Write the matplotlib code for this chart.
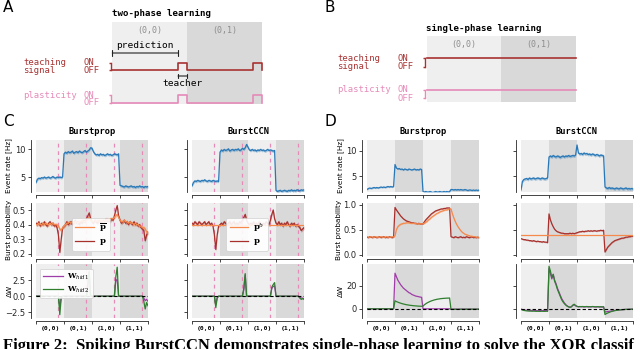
import numpy as np
import matplotlib
matplotlib.use('Agg')
import matplotlib.pyplot as plt

# ---------------- data ----------------
t = np.arange(81) * 0.05
phase_labels = ['(0,0)', '(0,1)', '(1,0)', '(1,1)']
phase_edges = [0, 1, 2, 3, 4]
teacher_onsets = [0.8, 1.8, 2.8, 3.8]

# panel A / B schematic signals
a_time = [0, 0.88, 1.0, 1.88, 2.0]
a_teach = [0, 1, 0, 1, 0]
a_plast = [0, 1, 0, 1, 0]
b_time = [0, 2]
b_teach = [1, 1]
b_plast = [1, 1]

# ---- panel C, Burstprop ----
c_bp_rate = [4.0, 4.6, 4.8, 4.7, 4.9, 4.8, 5.0, 4.8, 4.9, 5.0, 4.8, 4.9, 5.1, 4.9, 4.8, 5.0, 4.9, 5.0, 4.9, 5.0,
             9.2, 9.5, 9.3, 9.6, 9.4, 9.5, 9.7, 9.3, 9.5, 9.6, 9.4, 9.7, 9.5, 9.4, 9.6, 9.8, 9.5, 9.7, 9.9, 10.3,
             10.2, 9.6, 9.2, 9.0, 9.1, 8.9, 9.2, 9.0, 9.1, 8.9, 9.0, 9.2, 9.0, 9.1, 8.9, 9.0, 9.2, 9.1, 9.0, 9.2,
             3.5, 3.4, 3.3, 3.2, 3.4, 3.3, 3.2, 3.3, 3.4, 3.2, 3.3, 3.1, 3.3, 3.2, 3.4, 3.2, 3.3, 3.1, 3.3, 3.2, 3.3]
c_bp_pbar = [0.40, 0.40, 0.41, 0.40, 0.40, 0.41, 0.40, 0.41, 0.40, 0.40, 0.41, 0.40, 0.41, 0.40, 0.40, 0.40, 0.39, 0.37, 0.36, 0.38,
             0.39, 0.40, 0.41, 0.41, 0.42, 0.41, 0.42, 0.41, 0.42, 0.42, 0.41, 0.42, 0.42, 0.43, 0.42, 0.42, 0.43, 0.44, 0.45, 0.43,
             0.42, 0.42, 0.43, 0.42, 0.43, 0.42, 0.43, 0.43, 0.42, 0.43, 0.43, 0.44, 0.43, 0.44, 0.44, 0.44, 0.45, 0.46, 0.47, 0.45,
             0.43, 0.42, 0.42, 0.43, 0.42, 0.42, 0.41, 0.42, 0.41, 0.41, 0.40, 0.41, 0.40, 0.40, 0.39, 0.39, 0.38, 0.38, 0.37, 0.35, 0.34]
c_bp_p = [0.41, 0.40, 0.42, 0.39, 0.41, 0.40, 0.42, 0.40, 0.39, 0.41, 0.42, 0.40, 0.41, 0.39, 0.40, 0.38, 0.33, 0.21, 0.30, 0.38,
          0.39, 0.40, 0.42, 0.40, 0.41, 0.42, 0.40, 0.41, 0.43, 0.41, 0.42, 0.40, 0.42, 0.41, 0.43, 0.42, 0.44, 0.46, 0.48, 0.44,
          0.42, 0.41, 0.43, 0.42, 0.41, 0.43, 0.42, 0.41, 0.43, 0.42, 0.44, 0.42, 0.43, 0.42, 0.44, 0.43, 0.46, 0.50, 0.53, 0.46,
          0.43, 0.41, 0.42, 0.43, 0.41, 0.42, 0.40, 0.42, 0.41, 0.40, 0.42, 0.40, 0.41, 0.39, 0.40, 0.38, 0.37, 0.36, 0.29, 0.33, 0.35]
c_bp_w1 = [0, 0, 0, 0, 0, 0, 0, 0, 0, 0, 0, 0, 0, 0, 0, 0, 0, -1.7, -0.2, 0,
           0, 0, 0, 0, 0, 0, 0, 0, 0, 0, 0, 0, 0, 0, 0, 0, 0, 1.7, 3.7, 0,
           0, 0, 0, 0, 0, 0, 0, 0, 0, 0, 0, 0, 0, 0, 0, 0, 0, 2.4, 2.6, 0,
           0, 0, 0, 0, 0, 0, 0, 0, 0, 0, 0, 0, 0, 0, 0, 0, 0, -0.3, -0.7, -0.5, -0.8]
c_bp_w2 = [0, 0, 0, 0, 0, 0, 0, 0, 0, 0, 0, 0, 0, 0, 0, 0, 0, -2.9, -0.3, 0,
           0, 0, 0, 0, 0, 0, 0, 0, 0, 0, 0, 0, 0, 0, 0, 0, 0, 1.8, 3.9, 0,
           0, 0, 0, 0, 0, 0, 0, 0, 0, 0, 0, 0, 0, 0, 0, 0, 0, 3.0, 4.5, 0,
           0, 0, 0, 0, 0, 0, 0, 0, 0, 0, 0, 0, 0, 0, 0, 0, 0, -0.8, -2.0, -1.0, -1.5]

# ---- panel C, BurstCCN ----
c_ccn_rate = [3.4, 4.0, 4.3, 4.2, 4.4, 4.3, 4.2, 4.4, 4.3, 4.5, 4.3, 4.2, 4.4, 4.3, 4.2, 4.4, 4.3, 4.2, 4.3, 4.2,
              9.5, 9.9, 9.7, 10.0, 9.8, 9.9, 10.1, 9.7, 9.9, 10.0, 9.8, 10.0, 9.9, 10.1, 9.8, 9.9, 10.2, 10.0, 10.3, 10.9,
              10.4, 9.9, 9.8, 10.0, 9.8, 9.9, 9.7, 9.9, 9.8, 10.0, 9.8, 9.9, 9.7, 9.8, 10.0, 9.8, 9.9, 9.8, 9.7, 9.8,
              2.6, 2.4, 2.5, 2.6, 2.4, 2.5, 2.6, 2.5, 2.4, 2.6, 2.5, 2.7, 2.5, 2.6, 2.5, 2.7, 2.6, 2.5, 2.7, 2.6, 2.7]
c_ccn_pb = 0.40
c_ccn_p = [0.41, 0.40, 0.42, 0.41, 0.40, 0.42, 0.41, 0.40, 0.41, 0.42, 0.40, 0.41, 0.42, 0.40, 0.41, 0.39, 0.33, 0.23, 0.33, 0.39,
           0.40, 0.41, 0.40, 0.42, 0.41, 0.40, 0.41, 0.42, 0.40, 0.41, 0.42, 0.40, 0.41, 0.40, 0.42, 0.41, 0.43, 0.45, 0.47, 0.43,
           0.41, 0.40, 0.41, 0.40, 0.42, 0.40, 0.41, 0.40, 0.42, 0.41, 0.40, 0.41, 0.40, 0.42, 0.41, 0.40, 0.43, 0.47, 0.50, 0.44,
           0.41, 0.40, 0.42, 0.40, 0.41, 0.39, 0.41, 0.40, 0.42, 0.40, 0.39, 0.41, 0.40, 0.41, 0.39, 0.40, 0.39, 0.38, 0.36, 0.37, 0.38]
c_ccn_w1 = [0, 0, 0, 0, 0, 0, 0, 0, 0, 0, 0, 0, 0, 0, 0, 0, 0, -1.3, -0.2, 0,
            0, 0, 0, 0, 0, 0, 0, 0, 0, 0, 0, 0, 0, 0, 0, 0, 0, 1.0, 3.3, 0,
            0, 0, 0, 0, 0, 0, 0, 0, 0, 0, 0, 0, 0, 0, 0, 0, 0, 1.2, 1.5, 1.6,
            0, 0, 0, 0, 0, 0, 0, 0, 0, 0, 0, 0, 0, 0, 0, 0, 0, -0.2, -0.3, -0.3, -0.4]
c_ccn_w2 = [0, 0, 0, 0, 0, 0, 0, 0, 0, 0, 0, 0, 0, 0, 0, 0, 0, -1.8, -0.3, 0,
            0, 0, 0, 0, 0, 0, 0, 0, 0, 0, 0, 0, 0, 0, 0, 0, 0, 1.2, 3.5, 0,
            0, 0, 0, 0, 0, 0, 0, 0, 0, 0, 0, 0, 0, 0, 0, 0, 0, 1.4, 1.8, 2.1,
            0, 0, 0, 0, 0, 0, 0, 0, 0, 0, 0, 0, 0, 0, 0, 0, 0, -0.3, -0.5, -0.4, -0.5]

# ---- panel D, Burstprop ----
d_bp_rate = [2.3, 2.5, 2.6, 2.5, 2.6, 2.7, 2.6, 2.7, 2.6, 2.7, 2.8, 2.7, 2.8, 2.7, 2.8, 2.9, 2.8, 2.9, 2.8, 2.9,
             7.3, 6.6, 6.4, 6.5, 6.3, 6.4, 6.2, 6.4, 6.3, 6.2, 6.4, 6.3, 6.2, 6.3, 6.4, 6.2, 6.3, 6.2, 6.4, 6.3,
             1.9, 1.8, 1.9, 1.8, 1.8, 1.9, 1.8, 1.7, 1.8, 1.9, 1.8, 1.8, 1.9, 1.8, 1.8, 1.9, 1.8, 1.9, 1.8, 1.9,
             2.3, 2.3, 2.2, 2.3, 2.2, 2.3, 2.2, 2.3, 2.2, 2.2, 2.3, 2.2, 2.1, 2.2, 2.2, 2.1, 2.2, 2.1, 2.2, 2.1, 2.2]
d_bp_pbar = [0.36, 0.35, 0.35, 0.36, 0.35, 0.35, 0.36, 0.35, 0.35, 0.35, 0.36, 0.35, 0.35, 0.35, 0.36, 0.35, 0.35, 0.35, 0.36, 0.35,
             0.38, 0.50, 0.56, 0.59, 0.61, 0.62, 0.63, 0.63, 0.64, 0.64, 0.64, 0.63, 0.63, 0.63, 0.63, 0.62, 0.62, 0.62, 0.62, 0.62,
             0.62, 0.63, 0.65, 0.67, 0.70, 0.72, 0.75, 0.77, 0.79, 0.81, 0.83, 0.84, 0.86, 0.87, 0.88, 0.89, 0.90, 0.90, 0.91, 0.92,
             0.92, 0.82, 0.74, 0.67, 0.61, 0.56, 0.52, 0.48, 0.45, 0.43, 0.41, 0.40, 0.39, 0.38, 0.37, 0.37, 0.36, 0.36, 0.35, 0.35, 0.35]
d_bp_p = [0.35, 0.34, 0.36, 0.35, 0.34, 0.36, 0.35, 0.34, 0.35, 0.36, 0.34, 0.35, 0.36, 0.34, 0.35, 0.34, 0.36, 0.35, 0.34, 0.35,
          0.95, 0.90, 0.86, 0.82, 0.78, 0.75, 0.72, 0.70, 0.68, 0.67, 0.66, 0.65, 0.64, 0.64, 0.63, 0.63, 0.62, 0.63, 0.62, 0.62,
          0.62, 0.66, 0.70, 0.73, 0.76, 0.79, 0.82, 0.84, 0.86, 0.88, 0.89, 0.90, 0.91, 0.92, 0.92, 0.93, 0.93, 0.94, 0.94, 0.94,
          0.36, 0.35, 0.34, 0.36, 0.35, 0.34, 0.35, 0.36, 0.34, 0.35, 0.34, 0.36, 0.35, 0.34, 0.35, 0.36, 0.34, 0.35, 0.34, 0.35, 0.34]
d_bp_w1 = [0, 0, 0, 0, 0, 0, 0, 0, 0, 0, 0, 0, 0, 0, 0, 0, 0, 0, 0, 0,
           31, 28, 25, 23, 21, 19.5, 18, 17, 16, 15, 14, 13.5, 12.5, 12, 11.5, 11, 10.8, 10.5, 10.2, 10,
           0, 0, 0, 0, 0, 0, 0, 0, 0, 0, 0, 0, 0, 0, 0, 0, 0, 0, 0, 0,
           -0.3, -0.3, -0.3, -0.3, -0.3, -0.3, -0.3, -0.3, -0.3, -0.3, -0.3, -0.3, -0.3, -0.3, -0.3, -0.3, -0.3, -0.3, -0.3, -0.3, -0.3]
d_bp_w2 = [0, 0, 0, 0, 0, 0, 0, 0, 0, 0, 0, 0, 0, 0, 0, 0, 0, 0, 0, 0,
           7, 6.3, 5.8, 5.3, 4.9, 4.5, 4.2, 3.9, 3.6, 3.4, 3.2, 3.0, 2.9, 2.7, 2.6, 2.5, 2.4, 2.3, 2.3, 2.2,
           2.4, 3.5, 4.4, 5.2, 5.8, 6.4, 6.9, 7.3, 7.7, 8.0, 8.3, 8.5, 8.7, 8.9, 9.0, 9.1, 9.2, 9.3, 9.3, 9.4,
           -0.5, -0.4, -0.5, -0.4, -0.4, -0.5, -0.4, -0.4, -0.3, -0.4, -0.4, -0.3, -0.4, -0.3, -0.3, -0.4, -0.3, -0.3, -0.3, -0.3, -0.3]

# ---- panel D, BurstCCN ----
d_ccn_rate = [2.2, 3.9, 4.3, 4.4, 4.5, 4.3, 4.6, 4.4, 4.5, 4.6, 4.4, 4.5, 4.6, 4.5, 4.4, 4.6, 4.5, 4.4, 4.5, 4.6,
              8.8, 9.0, 8.8, 9.1, 8.9, 8.8, 9.0, 8.9, 8.7, 8.9, 9.0, 8.8, 9.0, 8.9, 9.1, 8.9, 9.0, 9.1, 9.0, 9.2,
              11.2, 9.6, 9.4, 9.5, 9.3, 9.6, 9.4, 9.5, 9.3, 9.4, 9.2, 9.4, 9.3, 9.1, 9.3, 9.2, 9.0, 9.2, 9.1, 9.0,
              2.8, 2.6, 2.5, 2.7, 2.5, 2.6, 2.5, 2.4, 2.6, 2.5, 2.4, 2.6, 2.5, 2.4, 2.5, 2.6, 2.4, 2.5, 2.4, 2.5, 2.4]
d_ccn_pb = 0.40
d_ccn_p = [0.32, 0.31, 0.30, 0.30, 0.29, 0.29, 0.28, 0.28, 0.27, 0.28, 0.27, 0.26, 0.27, 0.26, 0.26, 0.25, 0.26, 0.25, 0.25, 0.24,
           0.82, 0.70, 0.62, 0.56, 0.51, 0.48, 0.46, 0.45, 0.44, 0.43, 0.43, 0.42, 0.42, 0.42, 0.42, 0.43, 0.42, 0.43, 0.42, 0.43,
           0.44, 0.45, 0.46, 0.46, 0.47, 0.46, 0.47, 0.47, 0.48, 0.47, 0.48, 0.47, 0.48, 0.48, 0.47, 0.48, 0.48, 0.49, 0.48, 0.49,
           0.05, 0.10, 0.15, 0.18, 0.21, 0.24, 0.26, 0.28, 0.29, 0.30, 0.31, 0.32, 0.33, 0.33, 0.34, 0.35, 0.35, 0.36, 0.36, 0.37, 0.37]
d_ccn_w1 = [-0.3, -0.6, -0.9, -1.1, -1.2, -1.3, -1.4, -1.4, -1.5, -1.4, -1.5, -1.5, -1.6, -1.5, -1.5, -1.6, -1.5, -1.6, -1.5, -1.6,
            35, 31, 26, 30, 25, 22, 18, 15, 12, 9, 7, 5, 3.6, 2.5, 1.8, 1.4, 1.8, 3.0, 3.6, 2.6,
            2.0, 1.7, 1.8, 1.7, 1.8, 1.6, 1.7, 1.8, 1.6, 1.7, 1.6, 1.8, 1.7, 1.6, 1.6, 1.7, 1.5, 1.6, 1.5, 1.6,
            -2.8, -2.6, -2.4, -2.2, -2.0, -1.8, -1.6, -1.4, -1.3, -1.1, -1.0, -0.9, -0.8, -0.7, -0.6, -0.5, -0.5, -0.4, -0.4, -0.3, -0.3]
d_ccn_w2 = [-0.5, -1.0, -1.4, -1.6, -1.8, -1.9, -2.0, -2.0, -2.1, -2.0, -2.1, -2.2, -2.1, -2.2, -2.2, -2.1, -2.2, -2.2, -2.1, -2.2,
            37, 33, 27, 30, 24, 21, 17, 14, 11, 8, 6, 4.5, 3.2, 2.3, 1.6, 1.3, 1.8, 3.2, 4.0, 2.8,
            2.2, 1.8, 2.0, 1.9, 2.0, 1.8, 1.9, 2.0, 1.8, 1.9, 1.8, 2.0, 1.9, 1.7, 1.8, 1.9, 1.7, 1.8, 1.7, 1.8,
            -5.0, -4.2, -3.6, -3.1, -2.6, -2.2, -1.9, -1.6, -1.4, -1.2, -1.0, -0.9, -0.8, -0.7, -0.6, -0.5, -0.5, -0.4, -0.4, -0.3, -0.3]

# band half-widths (style)
rate_band = {'c_bp': 0.25, 'c_ccn': 0.25, 'd_bp': 0.15, 'd_ccn': 0.3}
prob_band = 0.012

# ---------------- style ----------------
BLUE = '#2878b8'
RED = '#a8302c'
ORANGE = '#f58a4c'
GREEN = '#2f7f2f'
PURPLE = '#a03ca8'
PINK = '#e68ab8'
TEACH = '#a83232'
LIGHT = '#efefef'
DARK = '#d9d9d9'
MONO = 'DejaVu Sans Mono'
SPINE = '#262626'

plt.rcParams['font.family'] = ['DejaVu Sans']
plt.rcParams['mathtext.fontset'] = 'dejavuserif'

fig = plt.figure(figsize=(6.4, 3.49), dpi=100)
W, H = 640.0, 349.0


def fx(px):
    return px / W


def fy(py):
    return 1 - py / H


def shade(ax):
    cols = [LIGHT, DARK, LIGHT, DARK]
    for i in range(4):
        ax.axvspan(phase_edges[i], phase_edges[i + 1], color=cols[i], lw=0, zorder=0)


def style(ax, ylabel=None, yticks=None, show_ylabels=True, bottom_labels=False, label_px=None):
    for s in ['top', 'right']:
        ax.spines[s].set_visible(False)
    ax.spines['left'].set_position(('outward', 3.5))
    ax.spines['bottom'].set_position(('outward', 2.5))
    ax.spines['bottom'].set_bounds(0, 4)
    for s in ['left', 'bottom']:
        ax.spines[s].set_linewidth(0.6)
        ax.spines[s].set_color(SPINE)
    ax.set_xlim(0, 4)
    ax.set_xticks(phase_edges)
    ax.set_xticklabels([])
    ax.tick_params(axis='both', which='major', length=2.5, width=0.6, labelsize=6.0, pad=1.5, colors=SPINE)
    if bottom_labels:
        ax.set_xticks([0.5, 1.5, 2.5, 3.5], minor=True)
        ax.set_xticklabels(phase_labels, minor=True, fontfamily=MONO, fontsize=4.6, fontweight='bold')
        ax.tick_params(axis='x', which='minor', length=0, pad=3)
    if yticks is not None:
        ax.set_yticks(yticks)
    if not show_ylabels:
        ax.set_yticklabels([])
    if ylabel:
        ax.set_ylabel(ylabel, fontsize=5.2)
        # label_px: centre of the label in figure pixels (x)
        ax0 = ax.get_position().x0 * W
        ax.yaxis.set_label_coords((label_px + 3.5 - ax0) / (ax.get_position().width * W), 0.5)
    ax.patch.set_alpha(0)


cols_x = {'c_bp': 36, 'c_ccn': 192, 'd_bp': 367, 'd_ccn': 521}
rows_y = [(140, 192), (203, 256), (264, 318)]
axw = 112
ylabel_px = {'c_bp': (9, 9, 9), 'd_bp': (341, 338, 340)}


def make_ax(key, row):
    y0, y1 = rows_y[row]
    return fig.add_axes([fx(cols_x[key]), fy(y1), fx(axw), (y1 - y0) / H])


def teacher_lines(ax):
    for x in teacher_onsets:
        ax.axvline(x, color=PINK, lw=0.9, ls=(0, (3, 3)), zorder=1)


panels = {
    'c_bp': dict(rate=c_bp_rate, pbar=c_bp_pbar, p=c_bp_p, w1=c_bp_w1, w2=c_bp_w2, title='Burstprop', C=True),
    'c_ccn': dict(rate=c_ccn_rate, pbar=c_ccn_pb, p=c_ccn_p, w1=c_ccn_w1, w2=c_ccn_w2, title='BurstCCN', C=True),
    'd_bp': dict(rate=d_bp_rate, pbar=d_bp_pbar, p=d_bp_p, w1=d_bp_w1, w2=d_bp_w2, title='Burstprop', C=False),
    'd_ccn': dict(rate=d_ccn_rate, pbar=d_ccn_pb, p=d_ccn_p, w1=d_ccn_w1, w2=d_ccn_w2, title='BurstCCN', C=False),
}

for key, d in panels.items():
    left = key.endswith('bp')
    isC = d['C']
    lp = ylabel_px.get(key, (None, None, None))
    # row 1: event rate
    ax = make_ax(key, 0)
    shade(ax)
    if isC:
        teacher_lines(ax)
    r = np.array(d['rate'])
    ax.fill_between(t, r - rate_band[key], r + rate_band[key], color=BLUE, alpha=0.35, lw=0, zorder=2)
    ax.plot(t, r, color=BLUE, lw=0.9, zorder=3)
    ax.set_ylim((2.3, 11.7) if isC else (1.8, 12.2))
    style(ax, 'Event rate [Hz]' if left else None, [5, 10], show_ylabels=left, label_px=lp[0])
    ax.set_title(d['title'], fontfamily=MONO, fontweight='bold', fontsize=6.3, pad=4)

    # row 2: burst probability
    ax = make_ax(key, 1)
    shade(ax)
    if isC:
        teacher_lines(ax)
    p = np.array(d['p'])
    if np.ndim(d['pbar']) == 0:
        ax.plot([0, 4], [d['pbar'], d['pbar']], color=ORANGE, lw=0.9, zorder=4,
                label=r'$\mathbf{p}^{b}$')
    else:
        pb = np.array(d['pbar'])
        ax.fill_between(t, pb - prob_band, pb + prob_band, color=ORANGE, alpha=0.4, lw=0, zorder=2)
        ax.plot(t, pb, color=ORANGE, lw=0.9, zorder=4, label=r'$\overline{\mathbf{p}}$')
    ax.fill_between(t, p - prob_band, p + prob_band, color=RED, alpha=0.35, lw=0, zorder=2)
    ax.plot(t, p, color=RED, lw=0.9, zorder=3, label=r'$\mathbf{p}$')
    if isC:
        ax.set_ylim(0.186, 0.548)
        style(ax, 'Burst probability' if left else None, [0.2, 0.3, 0.4, 0.5], show_ylabels=left,
              label_px=lp[1])
        h, l = ax.get_legend_handles_labels()
        leg = ax.legend(h, l, loc='lower center', bbox_to_anchor=(0.49, 0.02), fontsize=6,
                        handlelength=2.2, handletextpad=0.6, borderpad=0.4, labelspacing=0.3,
                        frameon=True, framealpha=0.9, edgecolor='#cccccc')
        leg.get_frame().set_linewidth(0.5)
    else:
        ax.set_ylim(-0.03, 1.04)
        style(ax, 'Burst probability' if left else None, [0.0, 0.5, 1.0], show_ylabels=left,
              label_px=lp[1])

    # row 3: delta W
    ax = make_ax(key, 2)
    shade(ax)
    if isC:
        teacher_lines(ax)
    ax.plot(t, d['w1'], color=PURPLE, lw=0.9, zorder=3, label=r'$\mathbf{W}_{hid1}$')
    ax.plot(t, d['w2'], color=GREEN, lw=0.9, zorder=4, label=r'$\mathbf{W}_{hid2}$')
    ax.axhline(0, color='black', lw=0.8, ls=(0, (3, 2)), zorder=5)
    if isC:
        ax.set_ylim(-3.4, 5.0)
        style(ax, '\u0394W' if left else None, [-2.5, 0.0, 2.5], show_ylabels=left, bottom_labels=True,
              label_px=lp[2])
        if left:
            leg = ax.legend(loc='upper left', bbox_to_anchor=(0.0, 0.98), fontsize=5.5,
                            handlelength=2.6, handletextpad=0.6, borderpad=0.4, labelspacing=0.3,
                            frameon=True, framealpha=0.9, edgecolor='#cccccc')
            leg.get_frame().set_linewidth(0.5)
    else:
        ax.set_ylim(-8, 39)
        style(ax, '\u0394W' if left else None, [0, 20], show_ylabels=left, bottom_labels=True,
              label_px=lp[2])


# ---------------- panels A and B ----------------
def schematic(x0, x1, y0, y1, title, title_xy, teach_rows, plast_rows, time, teach, plast, labels_x, onoff_x):
    bg = fig.add_axes([fx(x0), fy(y1), fx(x1 - x0), (y1 - y0) / H])
    bg.set_xlim(0, 2)
    bg.set_ylim(0, 1)
    bg.axvspan(0, 1, color=LIGHT, lw=0)
    bg.axvspan(1, 2, color=DARK, lw=0)
    bg.axis('off')
    lab_y = 1 - (title_xy[2] - y0) / (y1 - y0)
    for i, lab in enumerate(phase_labels[:2]):
        bg.text(i + 0.5, lab_y, lab, ha='center', va='center', fontfamily=MONO, fontsize=6, color='#8c8c8c')
    fig.text(fx(title_xy[0]), fy(title_xy[1]), title, fontfamily=MONO, fontweight='bold', fontsize=6.6,
             ha='left', va='center')
    for (on_y, off_y), sig, col, name in [(teach_rows, teach, TEACH, 'teaching'),
                                           (plast_rows, plast, PINK, 'plasticity')]:
        sa = fig.add_axes([fx(x0), fy(off_y), fx(x1 - x0), (off_y - on_y) / H])
        sa.set_xlim(0, 2)
        sa.set_ylim(0, 1)
        sa.step(time, sig, where='post', color=col, lw=1.2, clip_on=False)
        for s in ['top', 'right', 'bottom']:
            sa.spines[s].set_visible(False)
        sa.spines['left'].set_position(('outward', 1.2))
        sa.spines['left'].set_color(col)
        sa.spines['left'].set_linewidth(1.0)
        sa.set_xticks([])
        sa.set_yticks([0, 1])
        sa.set_yticklabels([])
        sa.tick_params(axis='y', length=1.5, width=1.0, colors=col)
        sa.patch.set_alpha(0)
        fig.text(fx(labels_x), fy(on_y), name, fontfamily=MONO, fontsize=6.4, color=col,
                 ha='left', va='center')
        if name == 'teaching':
            fig.text(fx(labels_x), fy(off_y), 'signal', fontfamily=MONO, fontsize=6.4, color=col,
                     ha='left', va='center')
        fig.text(fx(onoff_x), fy(on_y), 'ON', fontfamily=MONO, fontsize=6.4, color=col, ha='left', va='center')
        fig.text(fx(onoff_x), fy(off_y), 'OFF', fontfamily=MONO, fontsize=6.4, color=col, ha='left', va='center')
    return bg


bgA = schematic(112.3, 261.7, 21.7, 104.3, 'two-phase learning', (112, 14, 31), (62.7, 70.3), (95, 102.7),
                a_time, a_teach, a_plast, 23, 83)
# prediction / teacher brackets
yA = lambda py: 1 - (py - 21.7) / (104.3 - 21.7)
bgA.annotate('', xy=(0, yA(53)), xytext=(a_time[1], yA(53)),
             arrowprops=dict(arrowstyle='|-|', lw=0.8, color='#222222', mutation_scale=2, shrinkA=0, shrinkB=0))
bgA.text(a_time[1] / 2, yA(45), 'prediction', ha='center', va='center', fontfamily=MONO, fontsize=6.8)
bgA.annotate('', xy=(a_time[1], yA(76)), xytext=(a_time[2], yA(76)),
             arrowprops=dict(arrowstyle='|-|', lw=0.8, color='#222222', mutation_scale=1.5, shrinkA=0, shrinkB=0))
bgA.text((a_time[1] + a_time[2]) / 2, yA(83), 'teacher', ha='center', va='center', fontfamily=MONO, fontsize=6.8)

schematic(426.7, 575.7, 36, 101.7, 'single-phase learning', (425.7, 28.3, 44.3), (58.3, 66.7), (90, 98.3),
          b_time, b_teach, b_plast, 337, 397.7)

# panel letters
for lab, x, y in [('A', 3, 7), ('B', 325, 7), ('C', 3, 122), ('D', 325, 122)]:
    fig.text(fx(x), fy(y), lab, fontsize=11, ha='left', va='center')

# caption (cut off at bottom, as in the source page)
fig.text(fx(3), fy(349.5),
         'Figure 2:  Spiking BurstCCN demonstrates single-phase learning to solve the XOR classif',
         fontfamily='Liberation Serif', fontweight='bold', fontsize=12, ha='left', va='baseline')

fig.savefig('out.png', dpi=100)
